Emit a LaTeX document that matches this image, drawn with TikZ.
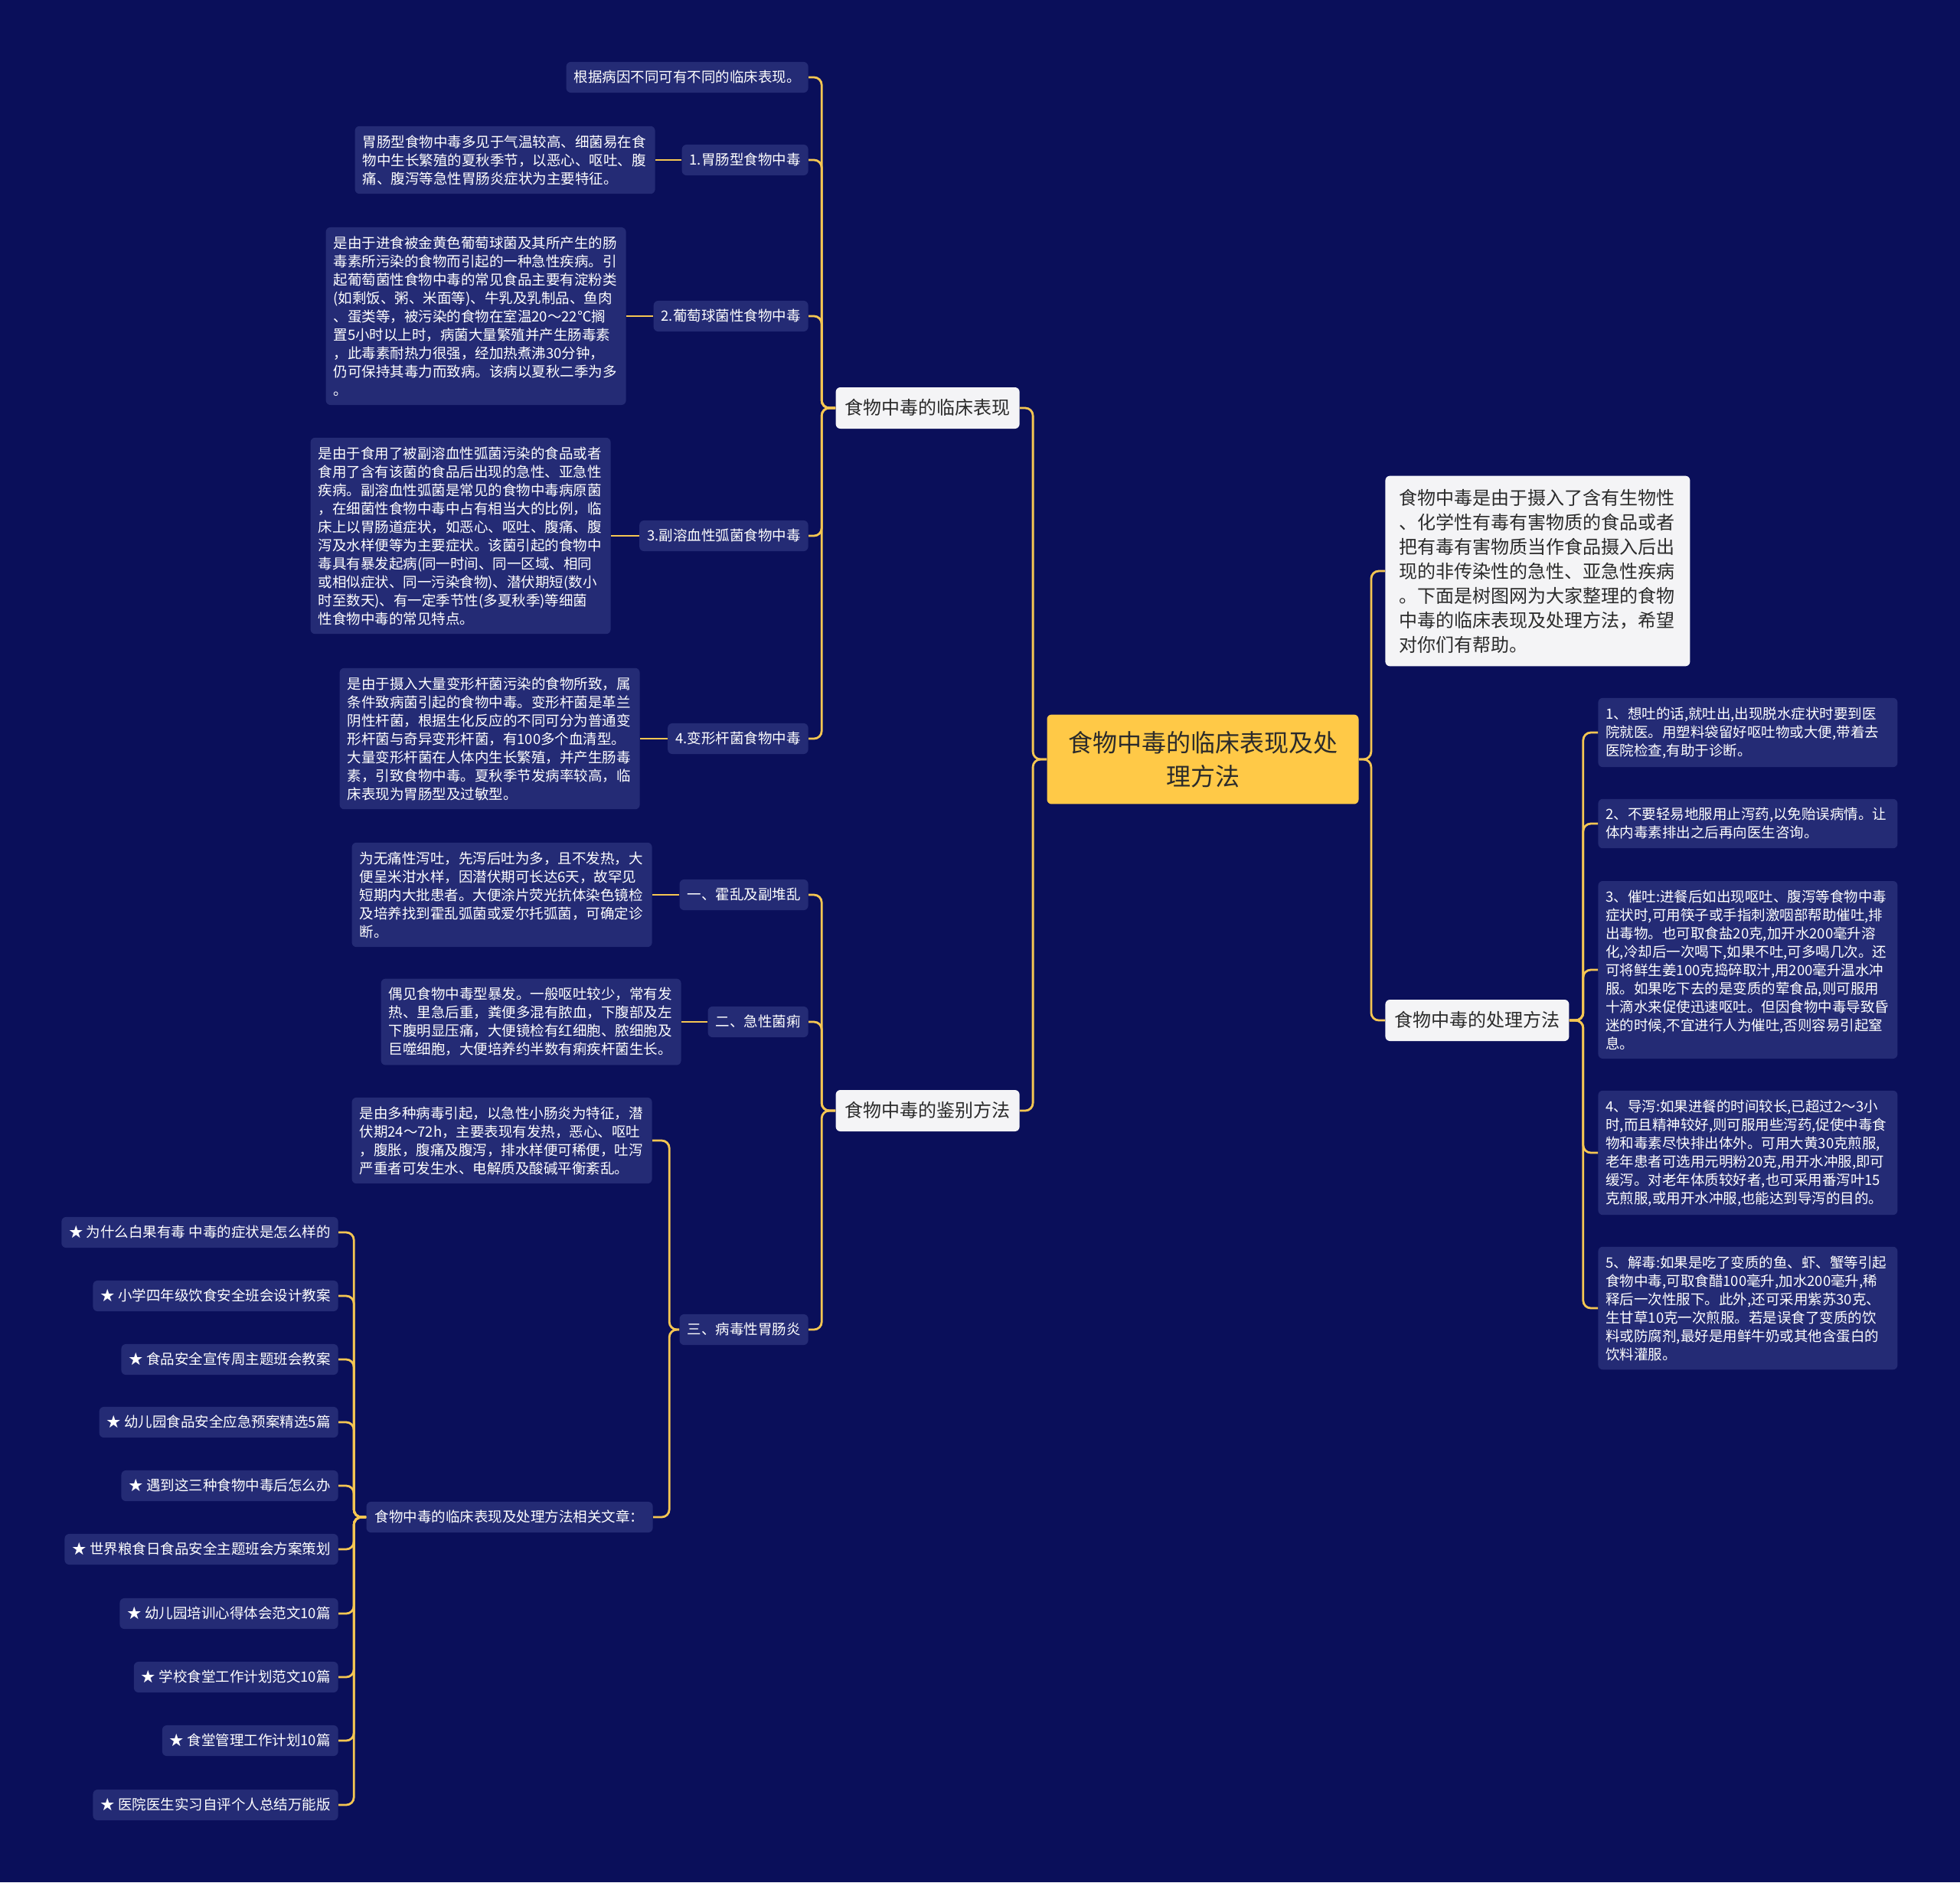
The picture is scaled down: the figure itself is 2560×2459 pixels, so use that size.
\documentclass[tikz,border=0pt]{standalone}
\usepackage{fontspec}
\setmainfont{Noto Sans CJK SC}
\definecolor{bg}{HTML}{0A0F5A}
\definecolor{leaffill}{HTML}{242B75}
\definecolor{cline}{HTML}{F5C652}
\definecolor{rootfill}{HTML}{FFC947}
\definecolor{branchfill}{HTML}{F4F4F6}
\definecolor{textdark}{HTML}{2B2B2B}
\tikzset{
  conn/.style={draw=cline, line width=1.4pt, rounded corners=5pt},
  leaf/.style={fill=leaffill, rounded corners=3pt, text=white,
    font=\fontsize{9.25pt}{12pt}\selectfont, align=left, text width=186pt,
    inner xsep=5pt, inner ysep=5.8pt},
  tag/.style={fill=leaffill, rounded corners=3pt, text=white,
    font=\fontsize{9.25pt}{12pt}\selectfont, text height=8pt, text depth=1.25pt,
    inner xsep=5pt, inner ysep=5.4pt},
  branch/.style={fill=branchfill, rounded corners=3pt, text=textdark,
    font=\fontsize{12pt}{16pt}\selectfont, text height=10pt, text depth=2pt,
    inner xsep=6pt, inner ysep=7.5pt},
  intro/.style={fill=branchfill, rounded corners=3pt, text=textdark,
    font=\fontsize{12pt}{16pt}\selectfont, align=left, text width=181pt,
    inner xsep=9pt, inner ysep=8.6pt},
  rootbox/.style={fill=rootfill, rounded corners=3pt, text=textdark,
    font=\fontsize{16pt}{22pt}\selectfont, align=center, minimum width=203.5pt,
    inner ysep=10.8pt},
}
\begin{document}
\begin{tikzpicture}[x=0.5pt,y=-0.5pt]
\fill[bg] (0,0) rectangle (2560,2459);
\useasboundingbox (0,0) rectangle (2560,2459);

% root and main branches
\node[rootbox] (root) at (1571,992) {食物中毒的临床表现及处\\理方法};
\node[branch, anchor=east] (b1) at (1332,533) {食物中毒的临床表现};
\node[branch, anchor=east] (b2) at (1332,1451) {食物中毒的鉴别方法};
\node[intro, anchor=west] (b3) at (1809,746) {食物中毒是由于摄入了含有生物性\\、化学性有毒有害物质的食品或者\\把有毒有害物质当作食品摄入后出\\现的非传染性的急性、亚急性疾病\\。下面是树图网为大家整理的食物\\中毒的临床表现及处理方法，希望\\对你们有帮助。};
\node[branch, anchor=west] (b4) at (1809,1333) {食物中毒的处理方法};

% clinical manifestations
\node[tag, anchor=east] (l1) at (1056,101) {根据病因不同可有不同的临床表现。};
\node[tag, anchor=east] (l2) at (1056,209) {1.胃肠型食物中毒};
\node[tag, anchor=east] (l3) at (1056,413) {2.葡萄球菌性食物中毒};
\node[tag, anchor=east] (l4) at (1056,700) {3.副溶血性弧菌食物中毒};
\node[tag, anchor=east] (l5) at (1056,965) {4.变形杆菌食物中毒};

\node[leaf, anchor=east] (l2c) at (856,209) {胃肠型食物中毒多见于气温较高、细菌易在食\\物中生长繁殖的夏秋季节，以恶心、呕吐、腹\\痛、腹泻等急性胃肠炎症状为主要特征。};
\node[leaf, anchor=east] (l3c) at (818,413) {是由于进食被金黄色葡萄球菌及其所产生的肠\\毒素所污染的食物而引起的一种急性疾病。引\\起葡萄菌性食物中毒的常见食品主要有淀粉类\\(如剩饭、粥、米面等)、牛乳及乳制品、鱼肉\\、蛋类等，被污染的食物在室温20～22℃搁\\置5小时以上时，病菌大量繁殖并产生肠毒素\\，此毒素耐热力很强，经加热煮沸30分钟，\\仍可保持其毒力而致病。该病以夏秋二季为多\\。};
\node[leaf, anchor=east] (l4c) at (798,700) {是由于食用了被副溶血性弧菌污染的食品或者\\食用了含有该菌的食品后出现的急性、亚急性\\疾病。副溶血性弧菌是常见的食物中毒病原菌\\，在细菌性食物中毒中占有相当大的比例，临\\床上以胃肠道症状，如恶心、呕吐、腹痛、腹\\泻及水样便等为主要症状。该菌引起的食物中\\毒具有暴发起病(同一时间、同一区域、相同\\或相似症状、同一污染食物)、潜伏期短(数小\\时至数天)、有一定季节性(多夏秋季)等细菌\\性食物中毒的常见特点。};
\node[leaf, anchor=east] (l5c) at (836,965) {是由于摄入大量变形杆菌污染的食物所致，属\\条件致病菌引起的食物中毒。变形杆菌是革兰\\阴性杆菌，根据生化反应的不同可分为普通变\\形杆菌与奇异变形杆菌，有100多个血清型。\\大量变形杆菌在人体内生长繁殖，并产生肠毒\\素，引致食物中毒。夏秋季节发病率较高，临\\床表现为胃肠型及过敏型。};

% differential diagnosis
\node[tag, anchor=east] (m1) at (1056,1169) {一、霍乱及副堆乱};
\node[tag, anchor=east] (m2) at (1056,1335) {二、急性菌痢};
\node[tag, anchor=east] (m3) at (1056,1737) {三、病毒性胃肠炎};

\node[leaf, anchor=east] (m1c) at (852,1169) {为无痛性泻吐，先泻后吐为多，且不发热，大\\便呈米泔水样，因潜伏期可长达6天，故罕见\\短期内大批患者。大便涂片荧光抗体染色镜检\\及培养找到霍乱弧菌或爱尔托弧菌，可确定诊\\断。};
\node[leaf, anchor=east] (m2c) at (890,1335) {偶见食物中毒型暴发。一般呕吐较少，常有发\\热、里急后重，粪便多混有脓血，下腹部及左\\下腹明显压痛，大便镜检有红细胞、脓细胞及\\巨噬细胞，大便培养约半数有痢疾杆菌生长。};
\node[leaf, anchor=east] (m3a) at (852,1490) {是由多种病毒引起，以急性小肠炎为特征，潜\\伏期24～72h，主要表现有发热，恶心、呕吐\\，腹胀，腹痛及腹泻，排水样便可稀便，吐泻\\严重者可发生水、电解质及酸碱平衡紊乱。};
\node[tag, anchor=east, minimum width=187pt] (m3b) at (853,1982) {食物中毒的临床表现及处理方法相关文章：};

% related articles
\node[tag, anchor=east] (s1) at (442,1610) {★ 为什么白果有毒 中毒的症状是怎么样的};
\node[tag, anchor=east] (s2) at (442,1693) {★ 小学四年级饮食安全班会设计教案};
\node[tag, anchor=east] (s3) at (442,1776) {★ 食品安全宣传周主题班会教案};
\node[tag, anchor=east] (s4) at (442,1858) {★ 幼儿园食品安全应急预案精选5篇};
\node[tag, anchor=east] (s5) at (442,1941) {★ 遇到这三种食物中毒后怎么办};
\node[tag, anchor=east] (s6) at (442,2024) {★ 世界粮食日食品安全主题班会方案策划};
\node[tag, anchor=east] (s7) at (442,2108) {★ 幼儿园培训心得体会范文10篇};
\node[tag, anchor=east] (s8) at (442,2191) {★ 学校食堂工作计划范文10篇};
\node[tag, anchor=east] (s9) at (442,2274) {★ 食堂管理工作计划10篇};
\node[tag, anchor=east] (s10) at (442,2358) {★ 医院医生实习自评个人总结万能版};

% treatment
\node[leaf, anchor=west, text width=185.5pt] (r1) at (2087,957) {1、想吐的话,就吐出,出现脱水症状时要到医\\院就医。用塑料袋留好呕吐物或大便,带着去\\医院检查,有助于诊断。};
\node[leaf, anchor=west, text width=185.5pt] (r2) at (2087,1076) {2、不要轻易地服用止泻药,以免贻误病情。让\\体内毒素排出之后再向医生咨询。};
\node[leaf, anchor=west, text width=185.5pt] (r3) at (2087,1267) {3、催吐:进餐后如出现呕吐、腹泻等食物中毒\\症状时,可用筷子或手指刺激咽部帮助催吐,排\\出毒物。也可取食盐20克,加开水200毫升溶\\化,冷却后一次喝下,如果不吐,可多喝几次。还\\可将鲜生姜100克捣碎取汁,用200毫升温水冲\\服。如果吃下去的是变质的荤食品,则可服用\\十滴水来促使迅速呕吐。但因食物中毒导致昏\\迷的时候,不宜进行人为催吐,否则容易引起窒\\息。};
\node[leaf, anchor=west, text width=185.5pt] (r4) at (2087,1506) {4、导泻:如果进餐的时间较长,已超过2～3小\\时,而且精神较好,则可服用些泻药,促使中毒食\\物和毒素尽快排出体外。可用大黄30克煎服,\\老年患者可选用元明粉20克,用开水冲服,即可\\缓泻。对老年体质较好者,也可采用番泻叶15\\克煎服,或用开水冲服,也能达到导泻的目的。};
\node[leaf, anchor=west, text width=185.5pt] (r5) at (2087,1709) {5、解毒:如果是吃了变质的鱼、虾、蟹等引起\\食物中毒,可取食醋100毫升,加水200毫升,稀\\释后一次性服下。此外,还可采用紫苏30克、\\生甘草10克一次煎服。若是误食了变质的饮\\料或防腐剂,最好是用鲜牛奶或其他含蛋白的\\饮料灌服。};

% connectors
\foreach \c in {b1,b2} \draw[conn] (root.west) -- ++(-18,0) |- (\c.east);
\foreach \c in {b3,b4} \draw[conn] (root.east) -- ++(16,0) |- (\c.west);
\foreach \c in {l1,l2,l3,l4,l5} \draw[conn] (b1.west) -- ++(-18,0) |- (\c.east);
\foreach \c in {m1,m2,m3} \draw[conn] (b2.west) -- ++(-18,0) |- (\c.east);
\foreach \p/\c in {l2/l2c,l3/l3c,l4/l4c,l5/l5c,m1/m1c,m2/m2c} \draw[conn] (\p.west) -- (\c.east);
\foreach \c in {m3a,m3b} \draw[conn] (m3.west) -- ++(-13,0) |- (\c.east);
\foreach \c in {s1,s2,s3,s4,s5,s6,s7,s8,s9,s10} \draw[conn] (m3b.west) -- ++(-16,0) |- (\c.east);
\foreach \c in {r1,r2,r3,r4,r5} \draw[conn] (b4.east) -- ++(18,0) |- (\c.west);
\end{tikzpicture}
\end{document}
